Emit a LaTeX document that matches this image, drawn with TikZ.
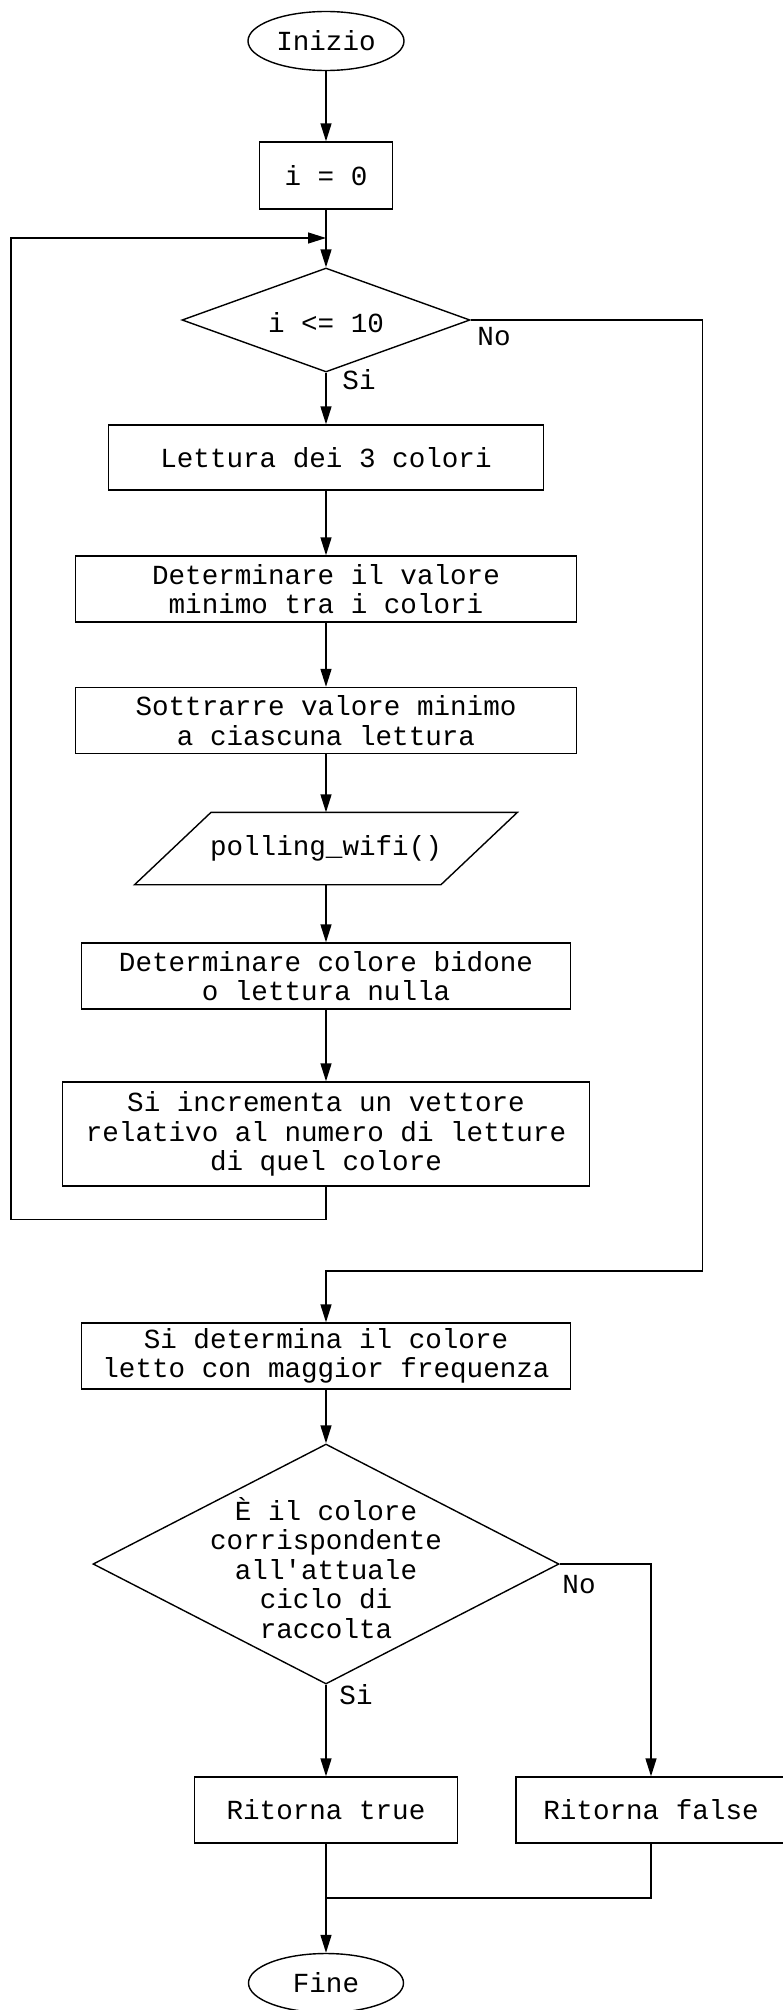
\documentclass[tikz,border=0pt]{standalone}
\usepackage{fontspec}
\setmonofont{Liberation Mono}
\usetikzlibrary{shapes.geometric,arrows.meta,calc}

\begin{document}
\begin{tikzpicture}[x=1pt,y=-1pt,
  line width=1.4pt,
  every node/.style={font=\ttfamily\fontsize{27.6}{29.5}\selectfont, inner sep=0pt, align=center},
  box/.style={draw, rectangle, minimum height=66pt},
  term/.style={draw, ellipse, minimum width=156pt, minimum height=59pt},
  decision/.style={draw, diamond},
  arr/.style={-{Triangle[length=18pt,width=11pt]}},
  lbl/.style={}
]
\useasboundingbox (0,0) rectangle (782,2010);

% terminals and steps
\node[term] (start) at (326,41) {Inizio};
\node[box, minimum width=133pt, minimum height=67pt] (init) at (326,175.5) {i = 0};
\node[decision, minimum width=288pt, minimum height=104pt] (cond1) at (326,320) {};
\node (cond1txt) at (326,323) {i <= 10};
\node[box, minimum width=435pt, minimum height=65pt] (read) at (326,457.5) {Lettura dei 3 colori};
\node[box, minimum width=501pt] (minv) at (326,589) {Determinare il valore\\minimo tra i colori};
\node[box, minimum width=501pt] (sub) at (326,720.5) {Sottrarre valore minimo\\a ciascuna lettura};
\node[minimum width=381.5pt, minimum height=71pt] (poll) at (326,848.5) {polling\_wifi()};
\draw (poll.south west) -- ($(poll.south east)+(-76.5,0)$) -- (poll.north east)
      -- ($(poll.north west)+(76.5,0)$) -- cycle;
\node[box, minimum width=488.5pt] (det) at (326,976) {Determinare colore bidone\\o lettura nulla};
\node[box, minimum width=526.5pt, minimum height=104pt] (inc) at (326,1134)
  {Si incrementa un vettore\\relativo al numero di letture\\di quel colore};
\node[box, minimum width=488.5pt] (freq) at (326,1356) {Si determina il colore\\letto con maggior frequenza};
\node[decision, minimum width=466pt, minimum height=240pt] (cond2) at (326,1564) {};
\node (cond2txt) at (326,1568) {È il colore\\corrispondente\\all'attuale\\ciclo di\\raccolta};
\node[box, minimum width=263.5pt] (rtrue) at (326,1810) {Ritorna true};
\node[box, minimum width=270pt] (rfalse) at (651,1810) {Ritorna false};
\node[term, minimum width=155pt] (endn) at (326,1983) {Fine};

% branch labels
\node[lbl] (no1) at (494,337) {No};
\node[lbl] (si1) at (359,380) {Si};
\node[lbl] (no2) at (579,1585) {No};
\node[lbl] (si2) at (356,1695) {Si};

% join points
\coordinate (loopin) at (326,238);
\coordinate (merge) at (326,1898);

% connectors
\draw[arr] (start) -- (init);
\draw[arr] (init) -- (cond1);
\draw[arr] (cond1.south) -- (read);
\draw[arr] (read) -- (minv);
\draw[arr] (minv) -- (sub);
\draw[arr] (sub) -- (poll);
\draw[arr] (poll) -- (det);
\draw[arr] (det) -- (inc);
\draw[arr] (inc.south) -- ++(0,33) -| (11,238) -- (loopin);
\draw[arr] (cond1.east) -| (702.5,1271) -| (freq.north);
\draw[arr] (freq) -- (cond2.north);
\draw[arr] (cond2.south) -- (rtrue);
\draw[arr] (cond2.east) -| (rfalse.north);
\draw (rfalse.south) |- (merge);
\draw[arr] (rtrue.south) -- (endn);
\end{tikzpicture}
\end{document}
